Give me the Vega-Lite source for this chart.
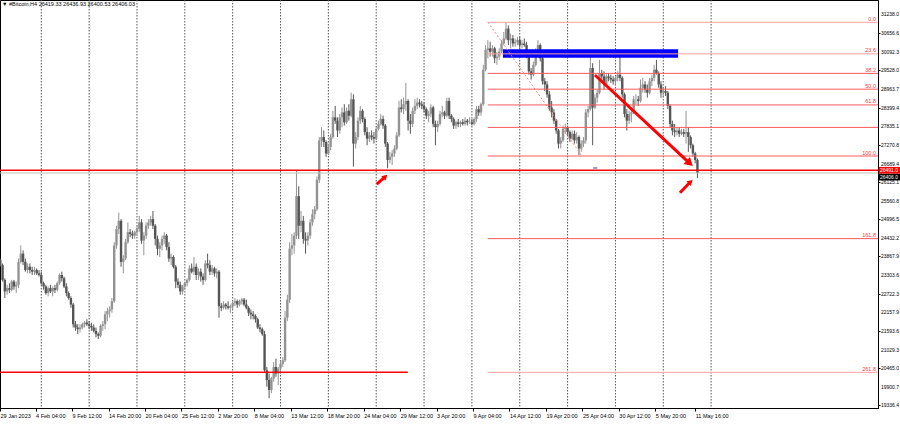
{
"$schema": "https://vega.github.io/schema/vega-lite/v6.json",
"width": 878, "height": 408,
"autosize": {"type": "none"},
"padding": {"left": 0, "top": 0, "right": 22, "bottom": 16},
"background": "#ffffff",
"config": {"view": {"stroke": "#000000", "strokeWidth": 1}, "font": "Liberation Sans", "axis": {"labelOverlap": false, "labelFlush": false}},
"datasets": {
"seps": [{"t":"2023-02-05T00:00Z"},{"t":"2023-02-12T00:00Z"},{"t":"2023-02-19T00:00Z"},{"t":"2023-02-26T00:00Z"},{"t":"2023-03-05T00:00Z"},{"t":"2023-03-12T00:00Z"},{"t":"2023-03-19T00:00Z"},{"t":"2023-03-26T00:00Z"},{"t":"2023-04-02T00:00Z"},{"t":"2023-04-09T00:00Z"},{"t":"2023-04-16T00:00Z"},{"t":"2023-04-23T00:00Z"},{"t":"2023-04-30T00:00Z"},{"t":"2023-05-07T00:00Z"},{"t":"2023-05-14T00:00Z"}],
"ylabels": [{"p":31238.0},{"p":30656.6},{"p":30092.3},{"p":29528.0},{"p":28963.7},{"p":28399.4},{"p":27835.1},{"p":27270.8},{"p":26689.4},{"p":26125.1},{"p":25560.8},{"p":24996.5},{"p":24432.2},{"p":23867.9},{"p":23303.6},{"p":22722.3},{"p":22157.9},{"p":21593.6},{"p":21029.3},{"p":20465.0},{"p":19900.7},{"p":19336.4}],
"bars": [
{"t":"2023-01-30T00:00Z","o":23750,"h":23800,"l":23550,"c":23600},
{"t":"2023-01-30T08:00Z","o":23600,"h":23650,"l":23100,"c":23150},
{"t":"2023-01-30T16:00Z","o":23150,"h":23200,"l":22600,"c":22800},
{"t":"2023-01-31T00:00Z","o":22800,"h":23000,"l":22700,"c":22900},
{"t":"2023-01-31T08:00Z","o":22900,"h":23050,"l":22750,"c":22850},
{"t":"2023-01-31T16:00Z","o":22850,"h":23150,"l":22800,"c":23100},
{"t":"2023-02-01T00:00Z","o":23100,"h":23150,"l":22850,"c":22950},
{"t":"2023-02-01T08:00Z","o":22950,"h":23100,"l":22750,"c":23000},
{"t":"2023-02-01T16:00Z","o":23000,"h":23800,"l":22900,"c":23700},
{"t":"2023-02-02T00:00Z","o":23700,"h":24200,"l":23650,"c":23950},
{"t":"2023-02-02T08:00Z","o":23950,"h":24050,"l":23600,"c":23700},
{"t":"2023-02-02T16:00Z","o":23700,"h":23800,"l":23400,"c":23450},
{"t":"2023-02-03T00:00Z","o":23450,"h":23650,"l":23350,"c":23550},
{"t":"2023-02-03T08:00Z","o":23550,"h":23650,"l":23350,"c":23450},
{"t":"2023-02-03T16:00Z","o":23450,"h":23550,"l":23300,"c":23400},
{"t":"2023-02-04T00:00Z","o":23400,"h":23550,"l":23300,"c":23450},
{"t":"2023-02-04T08:00Z","o":23450,"h":23500,"l":23300,"c":23350},
{"t":"2023-02-04T16:00Z","o":23350,"h":23450,"l":23250,"c":23300},
{"t":"2023-02-05T00:00Z","o":23300,"h":23400,"l":23000,"c":23050},
{"t":"2023-02-05T08:00Z","o":23050,"h":23100,"l":22850,"c":22950},
{"t":"2023-02-05T16:00Z","o":22950,"h":23000,"l":22700,"c":22750},
{"t":"2023-02-06T00:00Z","o":22750,"h":22950,"l":22650,"c":22900},
{"t":"2023-02-06T08:00Z","o":22900,"h":23000,"l":22750,"c":22800},
{"t":"2023-02-06T16:00Z","o":22800,"h":22950,"l":22650,"c":22900},
{"t":"2023-02-07T00:00Z","o":22900,"h":23000,"l":22750,"c":22850},
{"t":"2023-02-07T08:00Z","o":22850,"h":23100,"l":22800,"c":23050},
{"t":"2023-02-07T16:00Z","o":23050,"h":23350,"l":23000,"c":23300},
{"t":"2023-02-08T00:00Z","o":23300,"h":23400,"l":23100,"c":23200},
{"t":"2023-02-08T08:00Z","o":23200,"h":23250,"l":22900,"c":22950},
{"t":"2023-02-08T16:00Z","o":22950,"h":23050,"l":22650,"c":22750},
{"t":"2023-02-09T00:00Z","o":22750,"h":22800,"l":22550,"c":22600},
{"t":"2023-02-09T08:00Z","o":22600,"h":22650,"l":22300,"c":22400},
{"t":"2023-02-09T16:00Z","o":22400,"h":22450,"l":21700,"c":21800},
{"t":"2023-02-10T00:00Z","o":21800,"h":21900,"l":21600,"c":21700},
{"t":"2023-02-10T08:00Z","o":21700,"h":21800,"l":21500,"c":21650},
{"t":"2023-02-10T16:00Z","o":21650,"h":21800,"l":21550,"c":21700},
{"t":"2023-02-11T00:00Z","o":21700,"h":21850,"l":21650,"c":21800},
{"t":"2023-02-11T08:00Z","o":21800,"h":21900,"l":21700,"c":21850},
{"t":"2023-02-11T16:00Z","o":21850,"h":21950,"l":21750,"c":21800},
{"t":"2023-02-12T00:00Z","o":21800,"h":21900,"l":21650,"c":21750},
{"t":"2023-02-12T08:00Z","o":21750,"h":21850,"l":21600,"c":21700},
{"t":"2023-02-12T16:00Z","o":21700,"h":21800,"l":21550,"c":21600},
{"t":"2023-02-13T00:00Z","o":21600,"h":21700,"l":21400,"c":21500},
{"t":"2023-02-13T08:00Z","o":21500,"h":21550,"l":21350,"c":21450},
{"t":"2023-02-13T16:00Z","o":21450,"h":21800,"l":21400,"c":21750},
{"t":"2023-02-14T00:00Z","o":21750,"h":21900,"l":21600,"c":21800},
{"t":"2023-02-14T08:00Z","o":21800,"h":22200,"l":21650,"c":22100},
{"t":"2023-02-14T16:00Z","o":22100,"h":22300,"l":21900,"c":22200},
{"t":"2023-02-15T00:00Z","o":22200,"h":22350,"l":22000,"c":22250},
{"t":"2023-02-15T08:00Z","o":22250,"h":22600,"l":22150,"c":22500},
{"t":"2023-02-15T16:00Z","o":22500,"h":24300,"l":22450,"c":24200},
{"t":"2023-02-16T00:00Z","o":24200,"h":24800,"l":24100,"c":24700},
{"t":"2023-02-16T08:00Z","o":24700,"h":25200,"l":24550,"c":24950},
{"t":"2023-02-16T16:00Z","o":24950,"h":25000,"l":23550,"c":23700},
{"t":"2023-02-17T00:00Z","o":23700,"h":23900,"l":23350,"c":23800},
{"t":"2023-02-17T08:00Z","o":23800,"h":24400,"l":23750,"c":24300},
{"t":"2023-02-17T16:00Z","o":24300,"h":24900,"l":24250,"c":24600},
{"t":"2023-02-18T00:00Z","o":24600,"h":24700,"l":24450,"c":24550},
{"t":"2023-02-18T08:00Z","o":24550,"h":24650,"l":24400,"c":24500},
{"t":"2023-02-18T16:00Z","o":24500,"h":24650,"l":24400,"c":24600},
{"t":"2023-02-19T00:00Z","o":24600,"h":24800,"l":24500,"c":24700},
{"t":"2023-02-19T08:00Z","o":24700,"h":25100,"l":24600,"c":24900},
{"t":"2023-02-19T16:00Z","o":24900,"h":25000,"l":24250,"c":24350},
{"t":"2023-02-20T00:00Z","o":24350,"h":24600,"l":23900,"c":24500},
{"t":"2023-02-20T08:00Z","o":24500,"h":24900,"l":24400,"c":24800},
{"t":"2023-02-20T16:00Z","o":24800,"h":25000,"l":24700,"c":24900},
{"t":"2023-02-21T00:00Z","o":24900,"h":25100,"l":24800,"c":25000},
{"t":"2023-02-21T08:00Z","o":25000,"h":25250,"l":24700,"c":24800},
{"t":"2023-02-21T16:00Z","o":24800,"h":24850,"l":24200,"c":24400},
{"t":"2023-02-22T00:00Z","o":24400,"h":24500,"l":23900,"c":24100},
{"t":"2023-02-22T08:00Z","o":24100,"h":24300,"l":23850,"c":24200},
{"t":"2023-02-22T16:00Z","o":24200,"h":24500,"l":24050,"c":24400},
{"t":"2023-02-23T00:00Z","o":24400,"h":24600,"l":24250,"c":24500},
{"t":"2023-02-23T08:00Z","o":24500,"h":24550,"l":24050,"c":24150},
{"t":"2023-02-23T16:00Z","o":24150,"h":24300,"l":23700,"c":23800},
{"t":"2023-02-24T00:00Z","o":23800,"h":23950,"l":23600,"c":23850},
{"t":"2023-02-24T08:00Z","o":23850,"h":23900,"l":23500,"c":23550},
{"t":"2023-02-24T16:00Z","o":23550,"h":23600,"l":22900,"c":23100},
{"t":"2023-02-25T00:00Z","o":23100,"h":23200,"l":22900,"c":23000},
{"t":"2023-02-25T08:00Z","o":23000,"h":23100,"l":22700,"c":22800},
{"t":"2023-02-25T16:00Z","o":22800,"h":23000,"l":22700,"c":22950},
{"t":"2023-02-26T00:00Z","o":22950,"h":23100,"l":22850,"c":23050},
{"t":"2023-02-26T08:00Z","o":23050,"h":23200,"l":22950,"c":23150},
{"t":"2023-02-26T16:00Z","o":23150,"h":23600,"l":23100,"c":23500},
{"t":"2023-02-27T00:00Z","o":23500,"h":23650,"l":23350,"c":23400},
{"t":"2023-02-27T08:00Z","o":23400,"h":23850,"l":23300,"c":23550},
{"t":"2023-02-27T16:00Z","o":23550,"h":23650,"l":23150,"c":23300},
{"t":"2023-02-28T00:00Z","o":23300,"h":23500,"l":23150,"c":23400},
{"t":"2023-02-28T08:00Z","o":23400,"h":23500,"l":23100,"c":23250},
{"t":"2023-02-28T16:00Z","o":23250,"h":23350,"l":23000,"c":23150},
{"t":"2023-03-01T00:00Z","o":23150,"h":23750,"l":23100,"c":23650},
{"t":"2023-03-01T08:00Z","o":23650,"h":23950,"l":23500,"c":23600},
{"t":"2023-03-01T16:00Z","o":23600,"h":23750,"l":23300,"c":23400},
{"t":"2023-03-02T00:00Z","o":23400,"h":23600,"l":23300,"c":23500},
{"t":"2023-03-02T08:00Z","o":23500,"h":23550,"l":23250,"c":23350},
{"t":"2023-03-02T16:00Z","o":23350,"h":23500,"l":23200,"c":23400},
{"t":"2023-03-03T00:00Z","o":23400,"h":23450,"l":22000,"c":22350},
{"t":"2023-03-03T08:00Z","o":22350,"h":22450,"l":22200,"c":22300},
{"t":"2023-03-03T16:00Z","o":22300,"h":22500,"l":22250,"c":22400},
{"t":"2023-03-04T00:00Z","o":22400,"h":22450,"l":22250,"c":22350},
{"t":"2023-03-04T08:00Z","o":22350,"h":22500,"l":22250,"c":22300},
{"t":"2023-03-04T16:00Z","o":22300,"h":22400,"l":22150,"c":22350},
{"t":"2023-03-05T00:00Z","o":22350,"h":22500,"l":22250,"c":22450},
{"t":"2023-03-05T08:00Z","o":22450,"h":22600,"l":22350,"c":22500},
{"t":"2023-03-05T16:00Z","o":22500,"h":22550,"l":22300,"c":22400},
{"t":"2023-03-06T00:00Z","o":22400,"h":22550,"l":22350,"c":22500},
{"t":"2023-03-06T08:00Z","o":22500,"h":22600,"l":22400,"c":22550},
{"t":"2023-03-06T16:00Z","o":22550,"h":22600,"l":22350,"c":22400},
{"t":"2023-03-07T00:00Z","o":22400,"h":22550,"l":22250,"c":22300},
{"t":"2023-03-07T08:00Z","o":22300,"h":22350,"l":22050,"c":22150},
{"t":"2023-03-07T16:00Z","o":22150,"h":22250,"l":21950,"c":22100},
{"t":"2023-03-08T00:00Z","o":22100,"h":22200,"l":21950,"c":22050},
{"t":"2023-03-08T08:00Z","o":22050,"h":22100,"l":21850,"c":21950},
{"t":"2023-03-08T16:00Z","o":21950,"h":22000,"l":21650,"c":21700},
{"t":"2023-03-09T00:00Z","o":21700,"h":21800,"l":21550,"c":21650},
{"t":"2023-03-09T08:00Z","o":21650,"h":21700,"l":21450,"c":21500},
{"t":"2023-03-09T16:00Z","o":21500,"h":21600,"l":20350,"c":20400},
{"t":"2023-03-10T00:00Z","o":20400,"h":20500,"l":19900,"c":20100},
{"t":"2023-03-10T08:00Z","o":20100,"h":20300,"l":19550,"c":19800},
{"t":"2023-03-10T16:00Z","o":19800,"h":20200,"l":19700,"c":20150},
{"t":"2023-03-11T00:00Z","o":20150,"h":20650,"l":20050,"c":20500},
{"t":"2023-03-11T08:00Z","o":20500,"h":20750,"l":20200,"c":20300},
{"t":"2023-03-11T16:00Z","o":20300,"h":20500,"l":19950,"c":20450},
{"t":"2023-03-12T00:00Z","o":20450,"h":20700,"l":20300,"c":20600},
{"t":"2023-03-12T08:00Z","o":20600,"h":20800,"l":20500,"c":20700},
{"t":"2023-03-12T16:00Z","o":20700,"h":22200,"l":20650,"c":22000},
{"t":"2023-03-13T00:00Z","o":22000,"h":22700,"l":21900,"c":22550},
{"t":"2023-03-13T08:00Z","o":22550,"h":24300,"l":22450,"c":24100},
{"t":"2023-03-13T16:00Z","o":24100,"h":24550,"l":23900,"c":24200},
{"t":"2023-03-14T00:00Z","o":24200,"h":24600,"l":23950,"c":24500},
{"t":"2023-03-14T08:00Z","o":24500,"h":26500,"l":24400,"c":25700},
{"t":"2023-03-14T16:00Z","o":25700,"h":26000,"l":24400,"c":24800},
{"t":"2023-03-15T00:00Z","o":24800,"h":25250,"l":24600,"c":24950},
{"t":"2023-03-15T08:00Z","o":24950,"h":25100,"l":24250,"c":24400},
{"t":"2023-03-15T16:00Z","o":24400,"h":24600,"l":23950,"c":24350},
{"t":"2023-03-16T00:00Z","o":24350,"h":24600,"l":24200,"c":24500},
{"t":"2023-03-16T08:00Z","o":24500,"h":25000,"l":24400,"c":24900},
{"t":"2023-03-16T16:00Z","o":24900,"h":25300,"l":24800,"c":25150},
{"t":"2023-03-17T00:00Z","o":25150,"h":25400,"l":25000,"c":25300},
{"t":"2023-03-17T08:00Z","o":25300,"h":26300,"l":25250,"c":26200},
{"t":"2023-03-17T16:00Z","o":26200,"h":27500,"l":26100,"c":27400},
{"t":"2023-03-18T00:00Z","o":27400,"h":27800,"l":27200,"c":27500},
{"t":"2023-03-18T08:00Z","o":27500,"h":27700,"l":27200,"c":27350},
{"t":"2023-03-18T16:00Z","o":27350,"h":27400,"l":26900,"c":27000},
{"t":"2023-03-19T00:00Z","o":27000,"h":27300,"l":26950,"c":27200},
{"t":"2023-03-19T08:00Z","o":27200,"h":27600,"l":27100,"c":27500},
{"t":"2023-03-19T16:00Z","o":27500,"h":28300,"l":27450,"c":28100},
{"t":"2023-03-20T00:00Z","o":28100,"h":28450,"l":27900,"c":28000},
{"t":"2023-03-20T08:00Z","o":28000,"h":28100,"l":27500,"c":27700},
{"t":"2023-03-20T16:00Z","o":27700,"h":28200,"l":27600,"c":28100},
{"t":"2023-03-21T00:00Z","o":28100,"h":28400,"l":27800,"c":28250},
{"t":"2023-03-21T08:00Z","o":28250,"h":28500,"l":27850,"c":27950},
{"t":"2023-03-21T16:00Z","o":27950,"h":28400,"l":27900,"c":28300},
{"t":"2023-03-22T00:00Z","o":28300,"h":28500,"l":28000,"c":28150},
{"t":"2023-03-22T08:00Z","o":28150,"h":28850,"l":28100,"c":28650},
{"t":"2023-03-22T16:00Z","o":28650,"h":28800,"l":26600,"c":27300},
{"t":"2023-03-23T00:00Z","o":27300,"h":27650,"l":27150,"c":27500},
{"t":"2023-03-23T08:00Z","o":27500,"h":28100,"l":27400,"c":28000},
{"t":"2023-03-23T16:00Z","o":28000,"h":28450,"l":27900,"c":28300},
{"t":"2023-03-24T00:00Z","o":28300,"h":28350,"l":27950,"c":28050},
{"t":"2023-03-24T08:00Z","o":28050,"h":28100,"l":27550,"c":27650},
{"t":"2023-03-24T16:00Z","o":27650,"h":27800,"l":27250,"c":27450},
{"t":"2023-03-25T00:00Z","o":27450,"h":27650,"l":27350,"c":27550},
{"t":"2023-03-25T08:00Z","o":27550,"h":27700,"l":27400,"c":27500},
{"t":"2023-03-25T16:00Z","o":27500,"h":27650,"l":27300,"c":27450},
{"t":"2023-03-26T00:00Z","o":27450,"h":27800,"l":27400,"c":27750},
{"t":"2023-03-26T08:00Z","o":27750,"h":28000,"l":27700,"c":27900},
{"t":"2023-03-26T16:00Z","o":27900,"h":28200,"l":27850,"c":28050},
{"t":"2023-03-27T00:00Z","o":28050,"h":28150,"l":27750,"c":27850},
{"t":"2023-03-27T08:00Z","o":27850,"h":27900,"l":27200,"c":27300},
{"t":"2023-03-27T16:00Z","o":27300,"h":27350,"l":26550,"c":26800},
{"t":"2023-03-28T00:00Z","o":26800,"h":27050,"l":26700,"c":26900},
{"t":"2023-03-28T08:00Z","o":26900,"h":27100,"l":26650,"c":27000},
{"t":"2023-03-28T16:00Z","o":27000,"h":27250,"l":26900,"c":27150},
{"t":"2023-03-29T00:00Z","o":27150,"h":27650,"l":27100,"c":27550},
{"t":"2023-03-29T08:00Z","o":27550,"h":28600,"l":27500,"c":28400},
{"t":"2023-03-29T16:00Z","o":28400,"h":28650,"l":28250,"c":28350},
{"t":"2023-03-30T00:00Z","o":28350,"h":28700,"l":28200,"c":28500},
{"t":"2023-03-30T08:00Z","o":28500,"h":29150,"l":28300,"c":28600},
{"t":"2023-03-30T16:00Z","o":28600,"h":28650,"l":27700,"c":28000},
{"t":"2023-03-31T00:00Z","o":28000,"h":28200,"l":27600,"c":27900},
{"t":"2023-03-31T08:00Z","o":27900,"h":28400,"l":27800,"c":28300},
{"t":"2023-03-31T16:00Z","o":28300,"h":28650,"l":28200,"c":28450},
{"t":"2023-04-01T00:00Z","o":28450,"h":28700,"l":28350,"c":28550},
{"t":"2023-04-01T08:00Z","o":28550,"h":28650,"l":28400,"c":28500},
{"t":"2023-04-01T16:00Z","o":28500,"h":28600,"l":28350,"c":28450},
{"t":"2023-04-02T00:00Z","o":28450,"h":28550,"l":28250,"c":28350},
{"t":"2023-04-02T08:00Z","o":28350,"h":28400,"l":28050,"c":28150},
{"t":"2023-04-02T16:00Z","o":28150,"h":28300,"l":27950,"c":28200},
{"t":"2023-04-03T00:00Z","o":28200,"h":28500,"l":28100,"c":28400},
{"t":"2023-04-03T08:00Z","o":28400,"h":28450,"l":27800,"c":27900},
{"t":"2023-04-03T16:00Z","o":27900,"h":28000,"l":27250,"c":27800},
{"t":"2023-04-04T00:00Z","o":27800,"h":28000,"l":27650,"c":27900},
{"t":"2023-04-04T08:00Z","o":27900,"h":28300,"l":27850,"c":28200},
{"t":"2023-04-04T16:00Z","o":28200,"h":28450,"l":28100,"c":28250},
{"t":"2023-04-05T00:00Z","o":28250,"h":28300,"l":28050,"c":28150},
{"t":"2023-04-05T08:00Z","o":28150,"h":28700,"l":28100,"c":28600},
{"t":"2023-04-05T16:00Z","o":28600,"h":28700,"l":28050,"c":28150},
{"t":"2023-04-06T00:00Z","o":28150,"h":28200,"l":27950,"c":28050},
{"t":"2023-04-06T08:00Z","o":28050,"h":28100,"l":27750,"c":27850},
{"t":"2023-04-06T16:00Z","o":27850,"h":28000,"l":27750,"c":27950},
{"t":"2023-04-07T00:00Z","o":27950,"h":28050,"l":27800,"c":27900},
{"t":"2023-04-07T08:00Z","o":27900,"h":28000,"l":27800,"c":27950},
{"t":"2023-04-07T16:00Z","o":27950,"h":28050,"l":27850,"c":27900},
{"t":"2023-04-08T00:00Z","o":27900,"h":28100,"l":27850,"c":28000},
{"t":"2023-04-08T08:00Z","o":28000,"h":28050,"l":27850,"c":27950},
{"t":"2023-04-08T16:00Z","o":27950,"h":28100,"l":27900,"c":27950},
{"t":"2023-04-09T00:00Z","o":27950,"h":28050,"l":27850,"c":27900},
{"t":"2023-04-09T08:00Z","o":27900,"h":28100,"l":27850,"c":28050},
{"t":"2023-04-09T16:00Z","o":28050,"h":28450,"l":27950,"c":28350},
{"t":"2023-04-10T00:00Z","o":28350,"h":28450,"l":28150,"c":28250},
{"t":"2023-04-10T08:00Z","o":28250,"h":28550,"l":28150,"c":28500},
{"t":"2023-04-10T16:00Z","o":28500,"h":29700,"l":28450,"c":29550},
{"t":"2023-04-11T00:00Z","o":29550,"h":30300,"l":29500,"c":30150},
{"t":"2023-04-11T08:00Z","o":30150,"h":30450,"l":29900,"c":30200},
{"t":"2023-04-11T16:00Z","o":30200,"h":30400,"l":29950,"c":30100},
{"t":"2023-04-12T00:00Z","o":30100,"h":30300,"l":29950,"c":30200},
{"t":"2023-04-12T08:00Z","o":30200,"h":30250,"l":29750,"c":29900},
{"t":"2023-04-12T16:00Z","o":29900,"h":30100,"l":29700,"c":29950},
{"t":"2023-04-13T00:00Z","o":29950,"h":30200,"l":29850,"c":30100},
{"t":"2023-04-13T08:00Z","o":30100,"h":30450,"l":30050,"c":30350},
{"t":"2023-04-13T16:00Z","o":30350,"h":30700,"l":30300,"c":30500},
{"t":"2023-04-14T00:00Z","o":30500,"h":31000,"l":30450,"c":30800},
{"t":"2023-04-14T08:00Z","o":30800,"h":30900,"l":30300,"c":30450},
{"t":"2023-04-14T16:00Z","o":30450,"h":30650,"l":30200,"c":30500},
{"t":"2023-04-15T00:00Z","o":30500,"h":30600,"l":30250,"c":30350},
{"t":"2023-04-15T08:00Z","o":30350,"h":30500,"l":30250,"c":30400},
{"t":"2023-04-15T16:00Z","o":30400,"h":30550,"l":30300,"c":30450},
{"t":"2023-04-16T00:00Z","o":30450,"h":30550,"l":30200,"c":30300},
{"t":"2023-04-16T08:00Z","o":30300,"h":30450,"l":30200,"c":30350},
{"t":"2023-04-16T16:00Z","o":30350,"h":30500,"l":30250,"c":30300},
{"t":"2023-04-17T00:00Z","o":30300,"h":30400,"l":29900,"c":30000},
{"t":"2023-04-17T08:00Z","o":30000,"h":30050,"l":29400,"c":29500},
{"t":"2023-04-17T16:00Z","o":29500,"h":29600,"l":29250,"c":29400},
{"t":"2023-04-18T00:00Z","o":29400,"h":29800,"l":29350,"c":29700},
{"t":"2023-04-18T08:00Z","o":29700,"h":30200,"l":29650,"c":30100},
{"t":"2023-04-18T16:00Z","o":30100,"h":30450,"l":30000,"c":30300},
{"t":"2023-04-19T00:00Z","o":30300,"h":30350,"l":29800,"c":29900},
{"t":"2023-04-19T08:00Z","o":29900,"h":29950,"l":29100,"c":29200},
{"t":"2023-04-19T16:00Z","o":29200,"h":29300,"l":28900,"c":29100},
{"t":"2023-04-20T00:00Z","o":29100,"h":29200,"l":28700,"c":28800},
{"t":"2023-04-20T08:00Z","o":28800,"h":28900,"l":28300,"c":28400},
{"t":"2023-04-20T16:00Z","o":28400,"h":28600,"l":28100,"c":28250},
{"t":"2023-04-21T00:00Z","o":28250,"h":28350,"l":27900,"c":28000},
{"t":"2023-04-21T08:00Z","o":28000,"h":28050,"l":27600,"c":27700},
{"t":"2023-04-21T16:00Z","o":27700,"h":27750,"l":27150,"c":27300},
{"t":"2023-04-22T00:00Z","o":27300,"h":27500,"l":27150,"c":27400},
{"t":"2023-04-22T08:00Z","o":27400,"h":27850,"l":27350,"c":27750},
{"t":"2023-04-22T16:00Z","o":27750,"h":27900,"l":27600,"c":27800},
{"t":"2023-04-23T00:00Z","o":27800,"h":27850,"l":27550,"c":27650},
{"t":"2023-04-23T08:00Z","o":27650,"h":27700,"l":27350,"c":27450},
{"t":"2023-04-23T16:00Z","o":27450,"h":27700,"l":27400,"c":27600},
{"t":"2023-04-24T00:00Z","o":27600,"h":27700,"l":27300,"c":27400},
{"t":"2023-04-24T08:00Z","o":27400,"h":27650,"l":27300,"c":27500},
{"t":"2023-04-24T16:00Z","o":27500,"h":27550,"l":26950,"c":27150},
{"t":"2023-04-25T00:00Z","o":27150,"h":27400,"l":27050,"c":27300},
{"t":"2023-04-25T08:00Z","o":27300,"h":27500,"l":27200,"c":27400},
{"t":"2023-04-25T16:00Z","o":27400,"h":28350,"l":27300,"c":28250},
{"t":"2023-04-26T00:00Z","o":28250,"h":28450,"l":28100,"c":28350},
{"t":"2023-04-26T08:00Z","o":28350,"h":30000,"l":28300,"c":29600},
{"t":"2023-04-26T16:00Z","o":29600,"h":29750,"l":27250,"c":28400},
{"t":"2023-04-27T00:00Z","o":28400,"h":28800,"l":28350,"c":28700},
{"t":"2023-04-27T08:00Z","o":28700,"h":28950,"l":28550,"c":28850},
{"t":"2023-04-27T16:00Z","o":28850,"h":29850,"l":28800,"c":29450},
{"t":"2023-04-28T00:00Z","o":29450,"h":29550,"l":29250,"c":29350},
{"t":"2023-04-28T08:00Z","o":29350,"h":29500,"l":28950,"c":29100},
{"t":"2023-04-28T16:00Z","o":29100,"h":29450,"l":29050,"c":29350},
{"t":"2023-04-29T00:00Z","o":29350,"h":29450,"l":29200,"c":29300},
{"t":"2023-04-29T08:00Z","o":29300,"h":29400,"l":29150,"c":29250},
{"t":"2023-04-29T16:00Z","o":29250,"h":29350,"l":29100,"c":29200},
{"t":"2023-04-30T00:00Z","o":29200,"h":29350,"l":29100,"c":29300},
{"t":"2023-04-30T08:00Z","o":29300,"h":29500,"l":29200,"c":29400},
{"t":"2023-04-30T16:00Z","o":29400,"h":29950,"l":29200,"c":29300},
{"t":"2023-05-01T00:00Z","o":29300,"h":29350,"l":28700,"c":28800},
{"t":"2023-05-01T08:00Z","o":28800,"h":28850,"l":28100,"c":28200},
{"t":"2023-05-01T16:00Z","o":28200,"h":28350,"l":27700,"c":28000},
{"t":"2023-05-02T00:00Z","o":28000,"h":28300,"l":27900,"c":28200},
{"t":"2023-05-02T08:00Z","o":28200,"h":28350,"l":27950,"c":28250},
{"t":"2023-05-02T16:00Z","o":28250,"h":28750,"l":28200,"c":28650},
{"t":"2023-05-03T00:00Z","o":28650,"h":28800,"l":28500,"c":28650},
{"t":"2023-05-03T08:00Z","o":28650,"h":28750,"l":28450,"c":28600},
{"t":"2023-05-03T16:00Z","o":28600,"h":29250,"l":28550,"c":29000},
{"t":"2023-05-04T00:00Z","o":29000,"h":29300,"l":28850,"c":29100},
{"t":"2023-05-04T08:00Z","o":29100,"h":29200,"l":28850,"c":28950},
{"t":"2023-05-04T16:00Z","o":28950,"h":29100,"l":28700,"c":28850},
{"t":"2023-05-05T00:00Z","o":28850,"h":29300,"l":28800,"c":29200},
{"t":"2023-05-05T08:00Z","o":29200,"h":29400,"l":29050,"c":29300},
{"t":"2023-05-05T16:00Z","o":29300,"h":29700,"l":29200,"c":29550},
{"t":"2023-05-06T00:00Z","o":29550,"h":29850,"l":29400,"c":29450},
{"t":"2023-05-06T08:00Z","o":29450,"h":29500,"l":29000,"c":29100},
{"t":"2023-05-06T16:00Z","o":29100,"h":29200,"l":28700,"c":28850},
{"t":"2023-05-07T00:00Z","o":28850,"h":29000,"l":28700,"c":28900},
{"t":"2023-05-07T08:00Z","o":28900,"h":29050,"l":28750,"c":28850},
{"t":"2023-05-07T16:00Z","o":28850,"h":28900,"l":28350,"c":28450},
{"t":"2023-05-08T00:00Z","o":28450,"h":28500,"l":27800,"c":27900},
{"t":"2023-05-08T08:00Z","o":27900,"h":28000,"l":27550,"c":27700},
{"t":"2023-05-08T16:00Z","o":27700,"h":27900,"l":27500,"c":27650},
{"t":"2023-05-09T00:00Z","o":27650,"h":27800,"l":27550,"c":27700},
{"t":"2023-05-09T08:00Z","o":27700,"h":27800,"l":27500,"c":27600},
{"t":"2023-05-09T16:00Z","o":27600,"h":27750,"l":27550,"c":27650},
{"t":"2023-05-10T00:00Z","o":27650,"h":27750,"l":27500,"c":27600},
{"t":"2023-05-10T08:00Z","o":27600,"h":28300,"l":27300,"c":27650},
{"t":"2023-05-10T16:00Z","o":27650,"h":27800,"l":27050,"c":27500},
{"t":"2023-05-11T00:00Z","o":27500,"h":27550,"l":27150,"c":27250},
{"t":"2023-05-11T08:00Z","o":27250,"h":27300,"l":26900,"c":27000},
{"t":"2023-05-11T16:00Z","o":27000,"h":27050,"l":26700,"c":26800},
{"t":"2023-05-12T00:00Z","o":26800,"h":26850,"l":26250,"c":26406}
],
"fib": [{"lv":"0.0","p":30994},{"lv":"23.6","p":30033},{"lv":"38.2","p":29439},{"lv":"50.0","p":28958},{"lv":"61.8","p":28478},{"lv":"78.6","p":27794},{"lv":"100.0","p":26923},{"lv":"161.8","p":24407},{"lv":"261.8","p":20336}],
"hlines": [{"t1":"2023-01-29T23:00Z","t2":"2023-06-07T10:00Z","p":26491},{"t1":"2023-01-29T23:00Z","t2":"2023-03-30T15:00Z","p":20340}],
"arrows": [{"a":"big","t1":"2023-04-27T00:00Z","p1":29390,"t2":"2023-05-10T21:00Z","p2":26701},{"a":"s1","t1":"2023-03-26T02:00Z","p1":26070,"t2":"2023-03-27T08:00Z","p2":26296},{"a":"s2","t1":"2023-05-09T10:30Z","p1":25805,"t2":"2023-05-11T00:00Z","p2":26137}]
},
"layer": [
{"data": {"name": "seps"}, "mark": {"type": "rule", "color": "#555555", "strokeDash": [1.5, 1.5], "strokeWidth": 1},
 "encoding": {"x": {"field": "t", "type": "temporal",
   "scale": {"type": "utc", "domain": [{"year": 2023, "month": 1, "date": 29, "hours": 23, "utc": true}, {"year": 2023, "month": 6, "date": 7, "hours": 10, "utc": true}]},
   "axis": {"title": null, "grid": false, "labelOverlap": false, "labelFlush": false, "labelAlign": "left", "labelFontSize": 5.5, "labelColor": "#000000", "labelPadding": 2, "tickSize": 3, "tickColor": "#000000", "domainColor": "#000000",
     "values": [{"year":2023,"month":1,"date":29,"hours":23,"utc":true},{"year":2023,"month":2,"date":4,"hours":4,"utc":true},{"year":2023,"month":2,"date":9,"hours":12,"utc":true},{"year":2023,"month":2,"date":14,"hours":20,"utc":true},{"year":2023,"month":2,"date":20,"hours":4,"utc":true},{"year":2023,"month":2,"date":25,"hours":12,"utc":true},{"year":2023,"month":3,"date":2,"hours":20,"utc":true},{"year":2023,"month":3,"date":8,"hours":4,"utc":true},{"year":2023,"month":3,"date":13,"hours":12,"utc":true},{"year":2023,"month":3,"date":18,"hours":20,"utc":true},{"year":2023,"month":3,"date":24,"hours":4,"utc":true},{"year":2023,"month":3,"date":29,"hours":12,"utc":true},{"year":2023,"month":4,"date":3,"hours":20,"utc":true},{"year":2023,"month":4,"date":9,"hours":4,"utc":true},{"year":2023,"month":4,"date":14,"hours":12,"utc":true},{"year":2023,"month":4,"date":19,"hours":20,"utc":true},{"year":2023,"month":4,"date":25,"hours":4,"utc":true},{"year":2023,"month":4,"date":30,"hours":12,"utc":true},{"year":2023,"month":5,"date":5,"hours":20,"utc":true},{"year":2023,"month":5,"date":11,"hours":16,"utc":true}],
     "labelExpr": "utcFormat(datum.value, '%H') == '23' ? '29 Jan 2023' : utcFormat(datum.value, '%-d %b %H:%M')"}},
   "y": {"datum": 31673, "type": "quantitative", "scale": {"domain": [19250, 31673], "nice": false, "zero": false},
     "axis": {"orient": "right", "title": null, "grid": false, "labels": false, "tickSize": 2, "tickColor": "#000000", "domainColor": "#000000",
       "values": [31238.0, 30656.6, 30092.3, 29528.0, 28963.7, 28399.4, 27835.1, 27270.8, 26689.4, 26125.1, 25560.8, 24996.5, 24432.2, 23867.9, 23303.6, 22722.3, 22157.9, 21593.6, 21029.3, 20465.0, 19900.7, 19336.4]}},
   "y2": {"datum": 19250}}},
{"data": {"name": "bars"}, "mark": {"type": "rule", "strokeWidth": 1},
 "encoding": {"x": {"field": "t", "type": "temporal"},
   "y": {"field": "l", "type": "quantitative"},
   "y2": {"field": "h"},
   "color": {"condition": {"test": "datum.c >= datum.o", "value": "#939393"}, "value": "#555555"}}},
{"data": {"name": "bars"}, "mark": {"type": "rule", "strokeWidth": 2.4},
 "encoding": {"x": {"field": "t", "type": "temporal"}, "y": {"field": "o", "type": "quantitative"}, "y2": {"field": "c"},
   "color": {"condition": {"test": "datum.c >= datum.o", "value": "#939393"}, "value": "#555555"}}},
{"data": {"values": [{"t1": "2023-04-13T13:00Z", "t2": "2023-05-09T04:00Z", "p1": 29916, "p2": 30172}]}, "mark": {"type": "rect", "color": "#0000ff"},
 "encoding": {"x": {"field": "t1", "type": "temporal"}, "x2": {"field": "t2"}, "y": {"field": "p1", "type": "quantitative"}, "y2": {"field": "p2"}}},
{"data": {"values": [{"t1": "2023-04-11T08:30Z", "t2": "2023-04-25T02:30Z", "p1": 30994, "p2": 26923}]}, "mark": {"type": "rule", "color": "#ff8080", "strokeDash": [2, 2], "strokeWidth": 1},
 "encoding": {"x": {"field": "t1", "type": "temporal"}, "x2": {"field": "t2"}, "y": {"field": "p1", "type": "quantitative"}, "y2": {"field": "p2"}}},
{"data": {"name": "fib"}, "mark": {"type": "rule", "strokeWidth": 1},
 "encoding": {"x": {"datum": {"year": 2023, "month": 4, "date": 11, "hours": 8, "utc": true}, "type": "temporal"}, "x2": {"datum": {"year": 2023, "month": 6, "date": 7, "hours": 10, "utc": true}},
   "y": {"field": "p", "type": "quantitative"},
   "color": {"condition": {"test": "datum.lv == '0.0' || datum.lv == '23.6' || datum.lv == '261.8'", "value": "#ffa0a0"}, "value": "#ff5a5a"}}},
{"data": {"name": "fib"}, "transform": [{"filter": "datum.lv != '78.6'"}], "mark": {"type": "text", "align": "right", "baseline": "bottom", "dx": -2, "dy": -0.5, "fontSize": 5.5, "color": "#ff3c3c"},
 "encoding": {"x": {"datum": {"year": 2023, "month": 6, "date": 7, "hours": 10, "utc": true}, "type": "temporal"}, "y": {"field": "p", "type": "quantitative"}, "text": {"field": "lv"}}},
{"data": {"values": [{"p": 26406}]}, "mark": {"type": "rule", "color": "#c0c0c0", "strokeWidth": 1},
 "encoding": {"y": {"field": "p", "type": "quantitative"}}},
{"data": {"name": "hlines"}, "mark": {"type": "rule", "color": "#ff0000", "strokeWidth": 1.6},
 "encoding": {"x": {"field": "t1", "type": "temporal"}, "x2": {"field": "t2"}, "y": {"field": "p", "type": "quantitative"}}},
{"data": {"values": [{"t1": "2023-04-26T18:00Z", "t2": "2023-04-27T08:00Z", "p": 26558}]}, "mark": {"type": "rule", "color": "#3030ff", "strokeWidth": 1},
 "encoding": {"x": {"field": "t1", "type": "temporal"}, "x2": {"field": "t2"}, "y": {"field": "p", "type": "quantitative"}}},
{"data": {"name": "arrows"}, "mark": {"type": "rule", "color": "#ff0000", "strokeWidth": 3},
 "encoding": {"x": {"field": "t1", "type": "temporal"}, "x2": {"field": "t2"}, "y": {"field": "p1", "type": "quantitative"}, "y2": {"field": "p2"}}},
{"data": {"name": "arrows"}, "transform": [{"filter": "datum.a == 'big'"}], "mark": {"type": "point", "shape": "triangle-up", "filled": true, "color": "#ff0000", "size": 90, "angle": 133, "opacity": 1},
 "encoding": {"x": {"field": "t2", "type": "temporal"}, "y": {"field": "p2", "type": "quantitative"}}},
{"data": {"name": "arrows"}, "transform": [{"filter": "datum.a != 'big'"}], "mark": {"type": "point", "shape": "triangle-up", "filled": true, "color": "#ff0000", "size": 40, "angle": 47, "opacity": 1},
 "encoding": {"x": {"field": "t2", "type": "temporal"}, "y": {"field": "p2", "type": "quantitative"}}},
{"data": {"name": "ylabels"}, "mark": {"type": "text", "align": "left", "baseline": "middle", "dx": 3, "fontSize": 5, "color": "#000000"},
 "encoding": {"x": {"datum": {"year": 2023, "month": 6, "date": 7, "hours": 10, "utc": true}, "type": "temporal"}, "y": {"field": "p", "type": "quantitative"}, "text": {"field": "p", "type": "quantitative", "format": ".1f"}}},
{"data": {"values": [{"t1": "2023-06-07T13:00Z", "t2": "2023-06-10T16:00Z", "p1": 26384, "p2": 26590, "k": "line"}, {"t1": "2023-06-07T13:00Z", "t2": "2023-06-10T16:00Z", "p1": 26180, "p2": 26380, "k": "bid"}]},
 "mark": {"type": "rect", "clip": false},
 "encoding": {"x": {"field": "t1", "type": "temporal"}, "x2": {"field": "t2"}, "y": {"field": "p1", "type": "quantitative"}, "y2": {"field": "p2"},
   "color": {"condition": {"test": "datum.k == 'line'", "value": "#ff0000"}, "value": "#000000"}}},
{"data": {"values": [{"t": "2023-06-07T17:00Z", "p": 26491, "s": "26491.0"}, {"t": "2023-06-07T17:00Z", "p": 26280, "s": "26406.0"}]},
 "mark": {"type": "text", "align": "left", "baseline": "middle", "fontSize": 5, "color": "#ffffff"},
 "encoding": {"x": {"field": "t", "type": "temporal"}, "y": {"field": "p", "type": "quantitative"}, "text": {"field": "s"}}},
{"data": {"values": [{"s": "▼  #Bitcoin,H4  26419.33 26436.93 26400.53 26406.03"}]},
 "mark": {"type": "text", "align": "left", "baseline": "top", "dx": 2, "dy": 2, "fontSize": 5.5, "color": "#000000"},
 "encoding": {"x": {"datum": {"year": 2023, "month": 1, "date": 29, "hours": 23, "utc": true}, "type": "temporal"}, "y": {"datum": 31673, "type": "quantitative"}, "text": {"field": "s"}}}
]
}
